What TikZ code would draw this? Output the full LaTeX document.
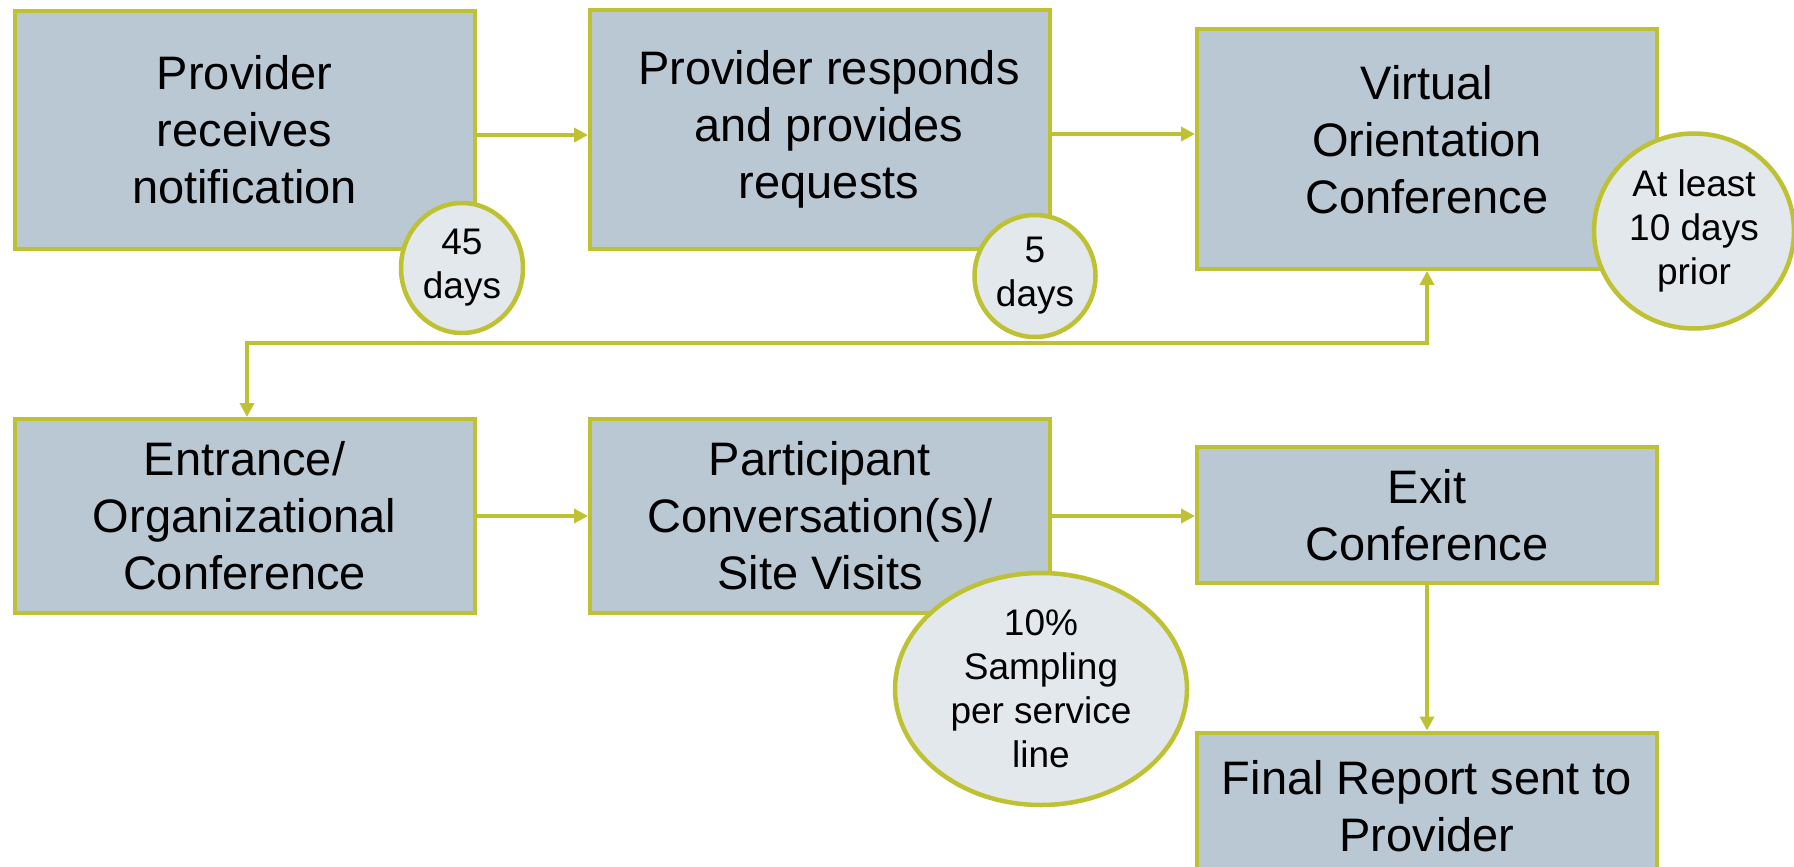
\documentclass[tikz,border=0pt]{standalone}
\usepackage{fontspec}
\setmainfont{Liberation Sans}
\usepackage{tikz}
\usetikzlibrary{arrows.meta}
\usetikzlibrary{shapes.geometric}
\tikzset{>={Triangle[length=14pt,width=14pt]}}
\definecolor{boxfill}{RGB}{186,200,211}
\definecolor{rim}{RGB}{190,193,50}
\definecolor{bubble}{RGB}{227,232,236}

\begin{document}
\begin{tikzpicture}[x=1pt,y=-1pt,
    caption/.style={align=center, inner sep=0pt, font=\fontsize{47}{57}\selectfont},
    stage/.style={caption, draw=rim, fill=boxfill, line width=4pt, rectangle,
      minimum width=460pt},
    note/.style={draw=rim, fill=bubble, line width=4.5pt, ellipse, align=center,
      inner sep=0pt, font=\fontsize{37}{44}\selectfont},
    flow/.style={draw=rim, line width=4pt}]
    \clip (0,0) rectangle (1794,867);
    \fill[white] (0,0) rectangle (1794,867);
    \node[stage, minimum height=238pt] (notify) at (244.5,130) {Provider\\receives\\notification};
    \node[stage, minimum height=239pt,
      label={[caption, xshift=9pt]center:{Provider responds\\and provides\\requests}}] (respond) at (820,129.5) {};
    \node[stage, minimum height=240pt,
      label={[caption, yshift=9pt]center:{Virtual\\Orientation\\Conference}}] (virtual) at (1427,149) {};
    \node[stage, minimum height=194pt] (entrance) at (244.5,516) {Entrance/\\Organizational\\Conference};
    \node[stage, minimum height=194pt] (visits) at (820,516) {Participant\\Conversation(s)/\\Site Visits};
    \node[stage, minimum height=136pt] (exit) at (1427,515) {Exit\\Conference};
    \node[stage, minimum height=147pt] (report) at (1427,806) {Final Report sent to\\Provider};
    \coordinate (turnA) at (1300,343);
    \coordinate (turnB) at (247,343);
    \begin{scope}[flow]
      \draw[->] ([yshift=-5pt]notify.east) -- ([yshift=-5pt]notify.east -| respond.west);
      \draw[->] ([yshift=-4.5pt]respond.east) -- ([yshift=-4.5pt]respond.east -| virtual.west);
      \draw[<->] (virtual.south) |- (turnA) -- (turnB) -- (turnB |- entrance.north);
      \draw[->] (entrance.east) -- (visits.west);
      \draw[->] (visits.east) -- (visits.east -| exit.west);
      \draw[->] (exit.south) -- (report.north);
    \end{scope}
    \node[note, minimum width=122pt, minimum height=130pt] (fortyfive) at (462,268) {45\\days};
    \node[note, minimum width=121pt, minimum height=122pt] (five) at (1035,276) {5\\days};
    \node[note, minimum width=200pt, minimum height=195pt] (prior) at (1694,231) {At least\\10 days\\prior};
    \node[note, minimum width=292pt, minimum height=232pt] (sampling) at (1041,689) {10\%\\Sampling\\per service\\line};
  \end{tikzpicture}
\end{document}
